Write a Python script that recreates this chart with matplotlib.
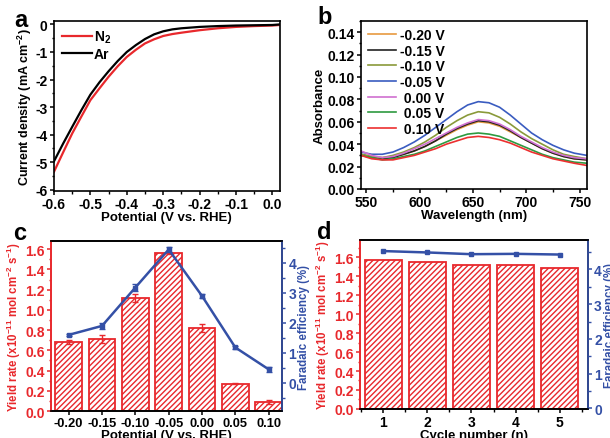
import numpy as np
import matplotlib
matplotlib.use("Agg")
import matplotlib.pyplot as plt
from matplotlib.ticker import MultipleLocator

plt.rcParams["font.family"] = ["Liberation Sans", "DejaVu Sans"]
plt.rcParams["font.weight"] = "bold"
plt.rcParams["axes.labelweight"] = "bold"
plt.rcParams["axes.unicode_minus"] = False
plt.rcParams["mathtext.default"] = "regular"
plt.rcParams["xtick.direction"] = "out"
plt.rcParams["ytick.direction"] = "out"
plt.rcParams["axes.linewidth"] = 1.2

RED = "#e8282c"
BLUE = "#3450a6"

# panel a: LSV curves
pot_a = [-0.6, -0.575, -0.55, -0.525, -0.5, -0.475, -0.45, -0.425, -0.4, -0.375,
         -0.35, -0.325, -0.3, -0.275, -0.25, -0.2, -0.15, -0.1, -0.05, 0.0, 0.02]
j_ar = [-4.97, -4.33, -3.72, -3.12, -2.55, -2.10, -1.70, -1.33, -1.00, -0.75,
        -0.53, -0.36, -0.25, -0.18, -0.14, -0.09, -0.06, -0.04, -0.03, -0.02, 0.0]
j_n2 = [-5.35, -4.65, -3.96, -3.35, -2.75, -2.32, -1.90, -1.52, -1.18, -0.92,
        -0.69, -0.54, -0.42, -0.35, -0.30, -0.21, -0.14, -0.09, -0.06, -0.04, -0.02]

# panel b: UV-vis spectra
wl = [545, 555, 565, 575, 585, 595, 605, 615, 625, 635, 645, 655, 665,
      675, 685, 695, 705, 715, 725, 735, 745, 757]
abs_m020 = [0.031, 0.029, 0.028, 0.029, 0.031, 0.034, 0.038, 0.043, 0.048, 0.053, 0.057,
            0.060, 0.059, 0.056, 0.051, 0.046, 0.041, 0.036, 0.032, 0.029, 0.027, 0.026]
abs_m015 = [0.031, 0.028, 0.027, 0.028, 0.031, 0.034, 0.038, 0.043, 0.049, 0.054, 0.058,
            0.061, 0.060, 0.057, 0.052, 0.046, 0.041, 0.036, 0.032, 0.029, 0.027, 0.026]
abs_m010 = [0.031, 0.029, 0.028, 0.030, 0.033, 0.037, 0.042, 0.048, 0.055, 0.061, 0.066,
            0.069, 0.068, 0.064, 0.058, 0.051, 0.045, 0.040, 0.035, 0.031, 0.029, 0.027]
abs_m005 = [0.033, 0.031, 0.031, 0.033, 0.037, 0.042, 0.048, 0.055, 0.062, 0.069, 0.075,
            0.078, 0.077, 0.073, 0.066, 0.058, 0.050, 0.044, 0.039, 0.035, 0.032, 0.030]
abs_p000 = [0.034, 0.030, 0.028, 0.029, 0.032, 0.036, 0.040, 0.045, 0.050, 0.055, 0.059,
            0.062, 0.061, 0.058, 0.053, 0.047, 0.042, 0.037, 0.033, 0.030, 0.028, 0.027]
abs_p005 = [0.030, 0.028, 0.026, 0.027, 0.029, 0.031, 0.034, 0.038, 0.042, 0.046, 0.049,
            0.050, 0.049, 0.047, 0.043, 0.039, 0.035, 0.031, 0.028, 0.026, 0.024, 0.023]
abs_p010 = [0.030, 0.027, 0.026, 0.026, 0.028, 0.030, 0.033, 0.036, 0.040, 0.043, 0.046,
            0.047, 0.046, 0.044, 0.041, 0.037, 0.033, 0.030, 0.027, 0.025, 0.023, 0.021]
spec_labels = ["-0.20 V", "-0.15 V", "-0.10 V", "-0.05 V", " 0.00 V", " 0.05 V", " 0.10 V"]
spec_colors = ["#e89a40", "#222222", "#8a9a3a", "#3a5cc0", "#d070d0", "#2e9a40", "#ec3030"]

# panel c: yield / FE vs potential
pot_c = ["-0.20", "-0.15", "-0.10", "-0.05", "0.00", "0.05", "0.10"]
yield_c = [0.68, 0.71, 1.12, 1.56, 0.82, 0.27, 0.09]
yield_c_err = [0.02, 0.04, 0.04, 0.01, 0.04, 0.005, 0.02]
fe_c = [1.59, 1.89, 3.17, 4.44, 2.89, 1.17, 0.44]
fe_c_err = [0.04, 0.10, 0.12, 0.08, 0.08, 0.04, 0.08]

# panel d: cycling
cycles = [1, 2, 3, 4, 5]
yield_d = [1.57, 1.545, 1.52, 1.52, 1.485]
fe_d = [4.53, 4.49, 4.44, 4.45, 4.43]

fig = plt.figure(figsize=(6.1, 4.39), dpi=100)
ax_a = fig.add_axes([0.0885, 0.5626, 0.370, 0.387])
ax_b = fig.add_axes([0.5918, 0.5672, 0.3705, 0.3827])
ax_c = fig.add_axes([0.0836, 0.0615, 0.3787, 0.387])
ax_d = fig.add_axes([0.590, 0.0661, 0.3738, 0.385])

TICK_FS = 10
LAB_FS = 9.5
YLAB_FS = 8.3


def style(ax):
    ax.tick_params(labelsize=TICK_FS, width=1.1, length=3, pad=1.5)
    ax.tick_params(which="minor", width=1.0, length=1.8)
    for lab in ax.get_xticklabels() + ax.get_yticklabels():
        lab.set_fontweight("bold")


# a
ax_a.plot(pot_a, j_n2, color=RED, lw=1.6, label="N$_2$")
ax_a.plot(pot_a, j_ar, color="black", lw=1.6, label="Ar")
ax_a.set_xlim(-0.6, 0.02)
ax_a.set_ylim(-6.05, 0.12)
ax_a.xaxis.set_minor_locator(MultipleLocator(0.05))
ax_a.yaxis.set_minor_locator(MultipleLocator(0.5))
ax_a.set_xticks(np.round(np.arange(-0.6, 0.01, 0.1), 1))
ax_a.set_xticklabels(["-0.6", "-0.5", "-0.4", "-0.3", "-0.2", "-0.1", "0.0"])
ax_a.set_yticks(range(-6, 1))
ax_a.set_yticklabels([str(v) for v in range(-6, 1)])
ax_a.set_xlabel("Potential (V vs. RHE)", fontsize=LAB_FS, labelpad=-0.5)
ax_a.set_ylabel("Current density (mA cm$^{-2}$)", fontsize=9, labelpad=1)
ax_a.legend(loc="upper left", frameon=False, handlelength=2.2,
            handletextpad=0.1, labelspacing=0.1, borderaxespad=0.15,
            prop={"weight": "bold", "size": TICK_FS})
style(ax_a)

# b
spectra = [abs_m020, abs_m015, abs_m010, abs_m005, abs_p000, abs_p005, abs_p010]
for s, lab, c in zip(spectra, spec_labels, spec_colors):
    ax_b.plot(wl, s, color=c, lw=1.2, label=lab)
ax_b.set_xlim(545, 757)
ax_b.set_ylim(0, 0.15)
ax_b.xaxis.set_major_locator(MultipleLocator(50))
ax_b.xaxis.set_minor_locator(MultipleLocator(25))
ax_b.yaxis.set_minor_locator(MultipleLocator(0.01))
ax_b.set_yticks(np.round(np.arange(0, 0.141, 0.02), 2))
ax_b.set_yticklabels(["%.2f" % v for v in np.arange(0, 0.141, 0.02)])
ax_b.set_xlabel("Wavelength (nm)", fontsize=LAB_FS, labelpad=-0.5)
ax_b.set_ylabel("Absorbance", fontsize=LAB_FS, labelpad=1)
ax_b.legend(loc="upper left", frameon=False, handlelength=2.0, handletextpad=0.3,
            labelspacing=0.12, borderaxespad=0.1,
            prop={"weight": "bold", "size": TICK_FS})
style(ax_b)

# c
xc = np.arange(len(pot_c))
ax_c.bar(xc, yield_c, width=0.8, color="white", edgecolor=RED, hatch="//////",
         linewidth=1.3, yerr=yield_c_err, ecolor=RED, capsize=2,
         error_kw={"elinewidth": 1.0})
ax_c.set_xlim(-0.53, 6.4)
ax_c.set_ylim(0, 1.68)
ax_c.set_xticks(xc)
ax_c.set_xticklabels(pot_c)
ax_c.set_yticks(np.round(np.arange(0, 1.61, 0.2), 1))
ax_c.set_yticklabels(["%.1f" % v for v in np.arange(0, 1.61, 0.2)])
ax_c.yaxis.set_minor_locator(MultipleLocator(0.1))
ax_c.set_xlabel("Potential (V vs. RHE)", fontsize=LAB_FS, labelpad=-0.5)
ax_c.set_ylabel("Yield rate (x10$^{-11}$ mol cm$^{-2}$ s$^{-1}$)", fontsize=YLAB_FS,
                color=RED, labelpad=1.5)
ax_c.spines["left"].set_color(RED)
ax_c.tick_params(axis="y", which="both", colors=RED)
style(ax_c)
ax_c.tick_params(axis="x", labelsize=9.3)
ax_c2 = ax_c.twinx()
ax_c2.errorbar(xc, fe_c, yerr=fe_c_err, color=BLUE, lw=1.8, marker="s", ms=3,
               capsize=2, elinewidth=1.0)
ax_c2.set_ylim(-0.95, 4.72)
ax_c2.set_yticks(range(0, 5))
ax_c2.yaxis.set_minor_locator(MultipleLocator(0.5))
ax_c2.set_ylabel("Faradaic efficiency (%)", fontsize=YLAB_FS, color=BLUE, labelpad=1.5)
ax_c2.spines["right"].set_color(BLUE)
ax_c2.spines["left"].set_color(RED)
ax_c2.tick_params(axis="y", which="both", colors=BLUE)
style(ax_c2)

# d
ax_d.bar(cycles, yield_d, width=0.83, color="white", edgecolor=RED, hatch="//////",
         linewidth=1.3)
ax_d.set_xlim(0.47, 5.64)
ax_d.set_ylim(0, 1.78)
ax_d.set_xticks(cycles)
ax_d.xaxis.set_minor_locator(MultipleLocator(0.5))
ax_d.set_yticks(np.round(np.arange(0, 1.61, 0.2), 1))
ax_d.set_yticklabels(["%.1f" % v for v in np.arange(0, 1.61, 0.2)])
ax_d.yaxis.set_minor_locator(MultipleLocator(0.1))
ax_d.set_xlabel("Cycle number (n)", fontsize=LAB_FS, labelpad=-0.5)
ax_d.set_ylabel("Yield rate (x10$^{-11}$ mol cm$^{-2}$ s$^{-1}$)", fontsize=YLAB_FS,
                color=RED, labelpad=1.5)
ax_d.spines["left"].set_color(RED)
ax_d.tick_params(axis="y", which="both", colors=RED)
style(ax_d)
ax_d2 = ax_d.twinx()
ax_d2.plot(cycles, fe_d, color=BLUE, lw=1.8, marker="s", ms=3)
ax_d2.set_ylim(-0.02, 4.85)
ax_d2.set_yticks(range(0, 5))
ax_d2.yaxis.set_minor_locator(MultipleLocator(0.5))
ax_d2.set_ylabel("Faradaic efficiency (%)", fontsize=YLAB_FS, color=BLUE, labelpad=1.5)
ax_d2.spines["right"].set_color(BLUE)
ax_d2.spines["left"].set_color(RED)
ax_d2.tick_params(axis="y", which="both", colors=BLUE)
style(ax_d2)

# panel letters
for x, y, t in [(0.024, 0.954, "a"), (0.521, 0.959, "b"), (0.021, 0.467, "c"), (0.520, 0.471, "d")]:
    fig.text(x, y, t, fontsize=17, fontweight="bold", va="center")

fig.savefig("out.png", dpi=100)
